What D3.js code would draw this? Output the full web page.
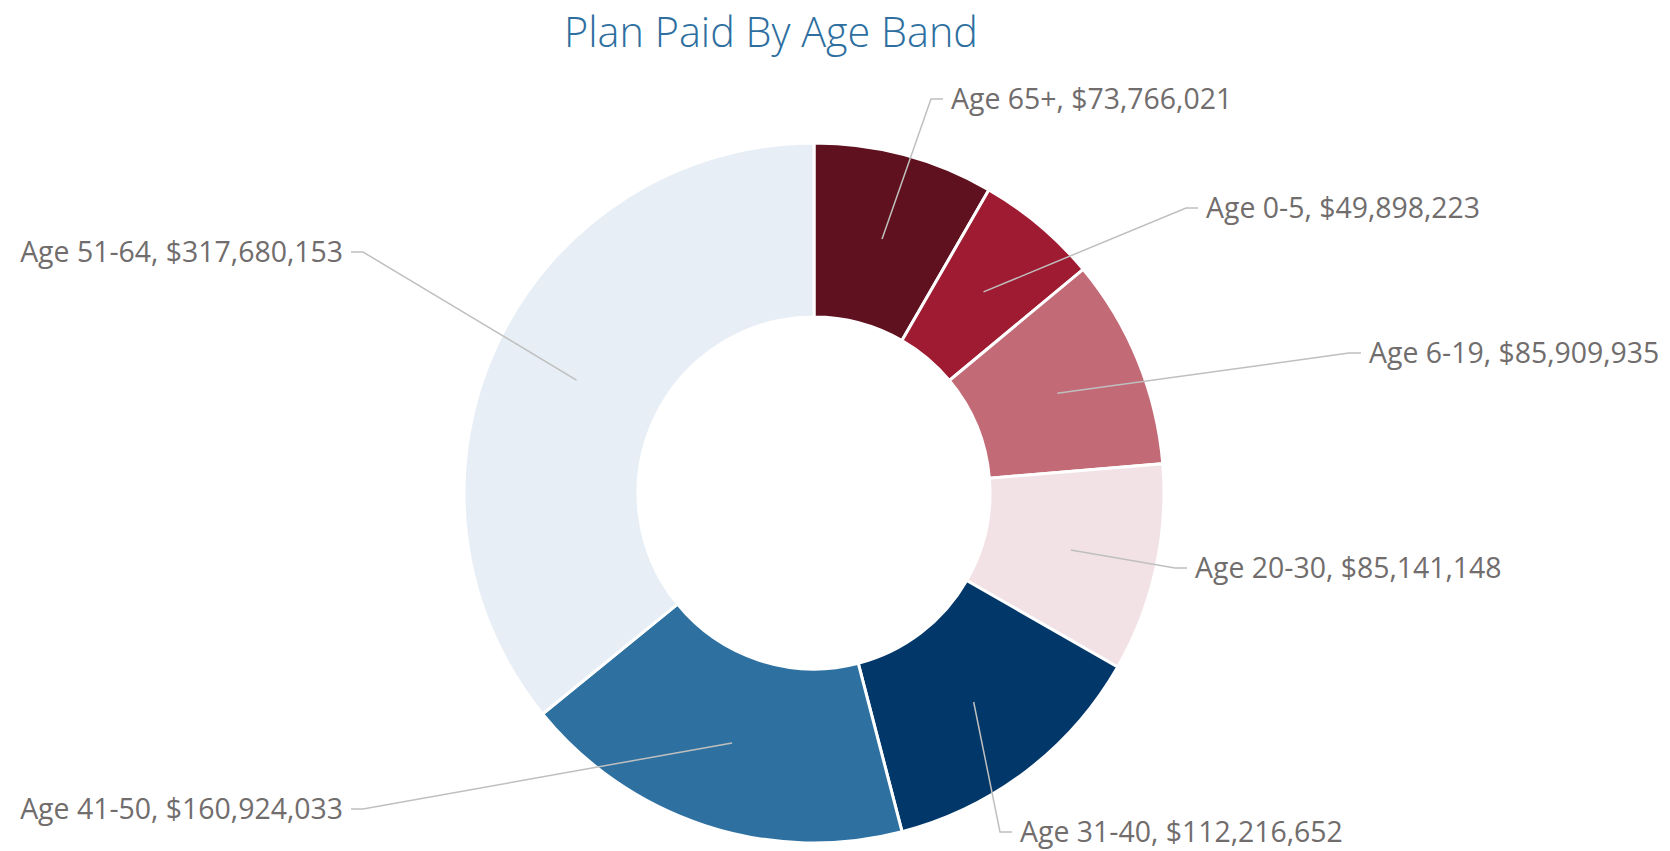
<!DOCTYPE html>
<meta charset="utf-8">
<style>
body { margin: 0; background: #fff; }
text { font-family: "Open Sans", "Liberation Sans", sans-serif; }
</style>
<body>
<svg width="1670" height="851" id="chart"></svg>
<script src="https://d3js.org/d3.v7.min.js"></script>
<script>

// data
var bands = ["Age 65+", "Age 0-5", "Age 6-19", "Age 20-30", "Age 31-40", "Age 41-50", "Age 51-64"];
var paid = [73766021, 49898223, 85909935, 85141148, 112216652, 160924033, 317680153];
var colors = ["#60111f", "#9f1b31", "#c26b77", "#f2e2e6", "#023769", "#2e71a1", "#e7eef5"];

// where Excel put each label (relative to centre), left or right of its tick
var labelPos = [[129, -394], [384, -285], [547, -140], [373, 75], [198, 339], [-463, 316], [-463, -241]];

var cx = 814, cy = 493, outer = 350, inner = 176;
var fmt = d3.format("$,.0f");

var svg = d3.select("#chart");

// title, fit to the original width (kept just inside the top edge)
var title = svg.append("text")
    .attr("x", 771)
    .attr("y", 47)
    .attr("text-anchor", "middle")
    .attr("fill", "#2e6fa0")
    .attr("font-weight", 300)
    .attr("font-size", 100)
    .text("Plan Paid By Age Band");
title.attr("font-size", 100 * 414 / title.node().getComputedTextLength());

var pie = d3.pie().sort(null).value(function(d) { return d; });
var arc = d3.arc().innerRadius(inner).outerRadius(outer);
var mid = d3.arc().innerRadius((inner + outer) / 2).outerRadius((inner + outer) / 2);

var g = svg.append("g").attr("transform", "translate(" + cx + "," + cy + ")");
var arcs = pie(paid);

g.selectAll("path.slice")
    .data(arcs)
  .enter().append("path")
    .attr("class", "slice")
    .attr("d", arc)
    .attr("fill", function(d, i) { return colors[i]; })
    .attr("stroke", "#fff")
    .attr("stroke-width", 3)
    .attr("stroke-linejoin", "miter");

// leader lines
g.selectAll("polyline")
    .data(arcs)
  .enter().append("polyline")
    .attr("fill", "none")
    .attr("stroke", "#bfbfbf")
    .attr("stroke-width", 1.5)
    .attr("points", function(d, i) {
      var p = mid.centroid(d), l = labelPos[i];
      var dir = l[0] < 0 ? 1 : -1;
      return [p, [l[0] + dir * 12, l[1]], l].join(" ");
    });

var labels = g.selectAll("text.lab")
    .data(arcs)
  .enter().append("text")
    .attr("class", "lab")
    .attr("x", function(d, i) { return labelPos[i][0] + (labelPos[i][0] < 0 ? -8 : 8); })
    .attr("y", function(d, i) { return labelPos[i][1]; })
    .attr("dy", "0.35em")
    .attr("text-anchor", function(d, i) { return labelPos[i][0] < 0 ? "end" : "start"; })
    .attr("fill", "#716d6d")
    .attr("font-size", 100)
    .text(function(d, i) { return bands[i] + ", " + fmt(d.data); });

// size labels so the widest one matches the original
var widest = d3.max(labels.nodes(), function(n) { return n.getComputedTextLength(); });
labels.attr("font-size", 100 * 323 / widest);

</script>
</body>
